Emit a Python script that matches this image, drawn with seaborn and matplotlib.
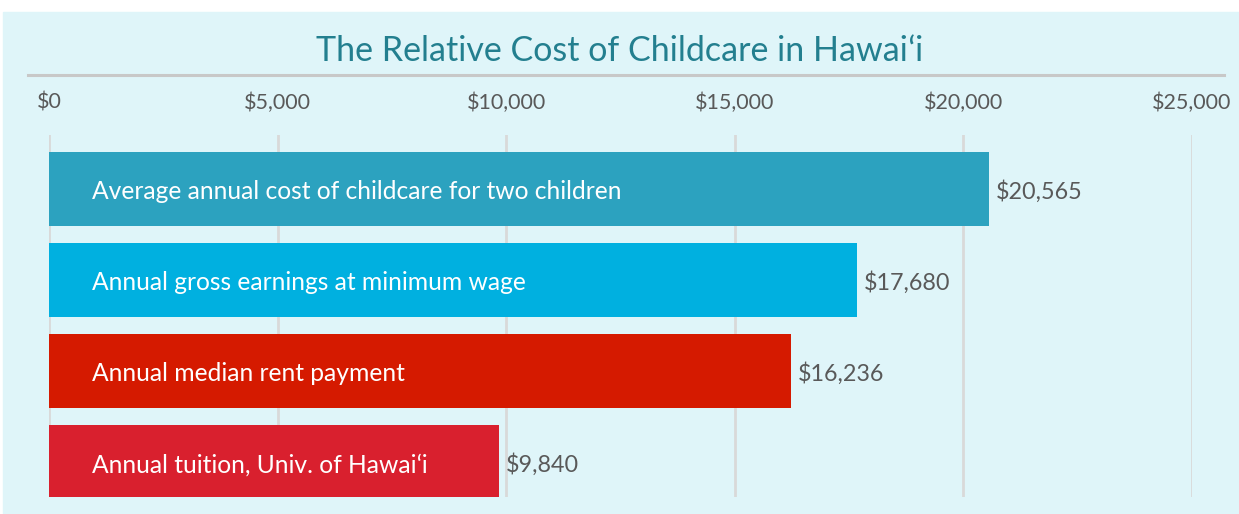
import pandas as pd
import matplotlib.pyplot as plt
import seaborn as sns
from matplotlib.patches import Rectangle
from matplotlib.lines import Line2D

# === данные ===
categories = [
    "Average annual cost of childcare for two children",
    "Annual gross earnings at minimum wage",
    "Annual median rent payment",
    "Annual tuition, Univ. of Hawaiʻi",
]
values = [20565, 17680, 16236, 9840]
bar_colors = ["#2ca2bf", "#00b0e0", "#d51a00", "#d9202e"]
x_ticks = [0, 5000, 10000, 15000, 20000, 25000]
tick_labels = ["$0", "$5,000", "$10,000", "$15,000", "$20,000", "$25,000"]
value_labels = ["$20,565", "$17,680", "$16,236", "$9,840"]
title = "The Relative Cost of Childcare in Hawaiʻi"

df = pd.DataFrame({"item": categories, "cost": values})

plt.rcParams['font.family'] = ['Lato', 'DejaVu Sans']

W, H = 1239, 514
fig = plt.figure(figsize=(W / 100, H / 100), dpi=100)
# светло-голубая подложка
fig.patches.append(Rectangle((3 / W, 0), 1 - 3 / W, 1 - 12 / H, transform=fig.transFigure,
                             color="#dff5f9", zorder=-10))

ax = fig.add_axes([49 / W, 1 - 497 / H, (1192 - 49) / W, (497 - 135) / H])
ax.set_facecolor("none")
sns.barplot(data=df, y="item", x="cost", hue="item", palette=bar_colors, width=0.81,
            saturation=1, legend=False, ax=ax)

ax.set_xlim(0, 25000)
ax.set_ylim(3.385, -0.593)
ax.set_xticks(x_ticks)
ax.set_xticklabels(tick_labels)
ax.xaxis.tick_top()
ax.tick_params(axis='x', length=0, pad=16, labelsize=15.5, labelcolor="#595959")
ax.set_yticks([])
ax.set_xlabel("")
ax.set_ylabel("")
ax.grid(axis='x', color="#d9d9d9", lw=2)
ax.set_axisbelow(True)
for s in ax.spines.values():
    s.set_visible(False)

for i, (cat, v, lab) in enumerate(zip(categories, values, value_labels)):
    ax.annotate(cat, xy=(0, i), xytext=(31, -2), textcoords='offset points',
                va='center', ha='left', color="white", fontsize=17.7)
    ax.annotate(lab, xy=(v, i), xytext=(5, -2), textcoords='offset points',
                va='center', ha='left', color="#595959", fontsize=16.8)

fig.text(0.5, 1 - 51 / H, title, ha='center', va='center', fontsize=24.5, color="#237f8f")
fig.add_artist(Line2D([28 / W, 1224 / W], [1 - 75 / H] * 2, color="#c8c8c8", lw=2.2))

fig.savefig("out.png", dpi=100)
